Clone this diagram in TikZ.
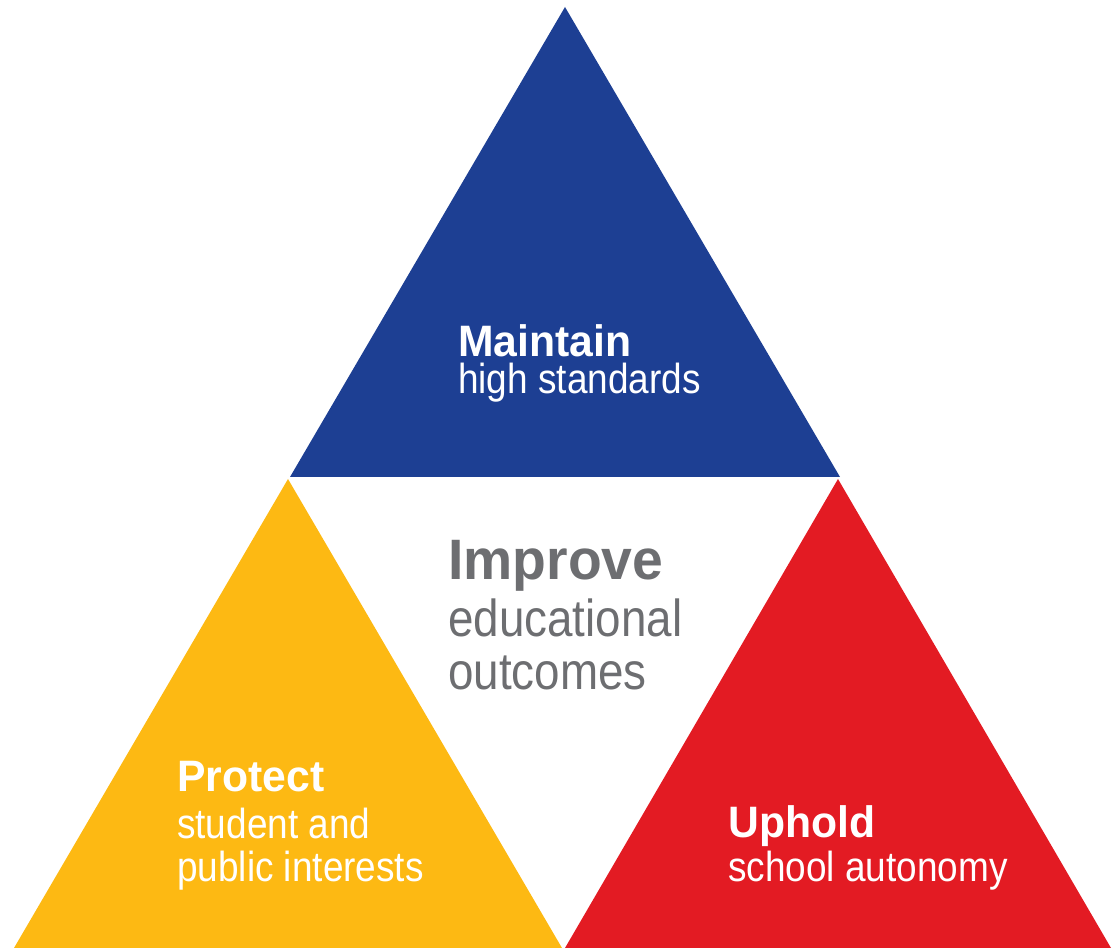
\documentclass[tikz,border=0pt]{standalone}
\usepackage{fontspec}
\setmainfont{Liberation Sans}[FakeStretch=0.88]
\newfontfamily\headfont{Liberation Sans}[FakeStretch=0.97]
\usepackage{tikz}
\usetikzlibrary{positioning}
\definecolor{capblue}{HTML}{1D3F93}
\definecolor{capyellow}{HTML}{FDB913}
\definecolor{capred}{HTML}{E31B23}
\definecolor{capgray}{HTML}{6D6E71}

\begin{document}
\begin{tikzpicture}[x=1pt, y=1pt,
    head/.style={font=\headfont\fontsize{44}{50}\selectfont\bfseries, anchor=base west, inner sep=0pt},
    sub/.style={font=\fontsize{42}{48}\selectfont, anchor=base west, inner sep=0pt}]
    \useasboundingbox (0,0) rectangle (1120,948);

    % Triangles
    \fill[capblue] (565,941) -- (290,471) -- (840,471) -- cycle;
    \fill[capyellow] (288,469) -- (14,0) -- (562,0) -- cycle;
    \fill[capred] (838,469) -- (565,0) -- (1111,0) -- cycle;

    % Top - Maintain
    \node[head, text=white] (maintain) at (458,591) {Maintain};
    \node[sub, text=white] (maintainsub) at ([yshift=-37]maintain.base west) {high standards};

    % Centre - Improve
    \node[head, font=\headfont\fontsize{57}{63}\selectfont\bfseries, text=capgray] (improve) at (448,368) {Improve};
    \node[sub, font=\fontsize{52}{58}\selectfont, text=capgray] (improvesub) at ([yshift=-57]improve.base west) {educational};
    \node[sub, font=\fontsize{52}{58}\selectfont, text=capgray] (improvesubb) at ([yshift=-53]improvesub.base west) {outcomes};

    % Left - Protect
    \node[head, text=white] (protect) at (177,156) {Protect};
    \node[sub, text=white] (protectsub) at ([yshift=-47]protect.base west) {student and};
    \node[sub, text=white] (protectsubb) at ([yshift=-43]protectsub.base west) {public interests};

    % Right - Uphold
    \node[head, text=white] (uphold) at (728,110) {Uphold};
    \node[sub, text=white] (upholdsub) at ([yshift=-44]uphold.base west) {school autonomy};
\end{tikzpicture}
\end{document}
